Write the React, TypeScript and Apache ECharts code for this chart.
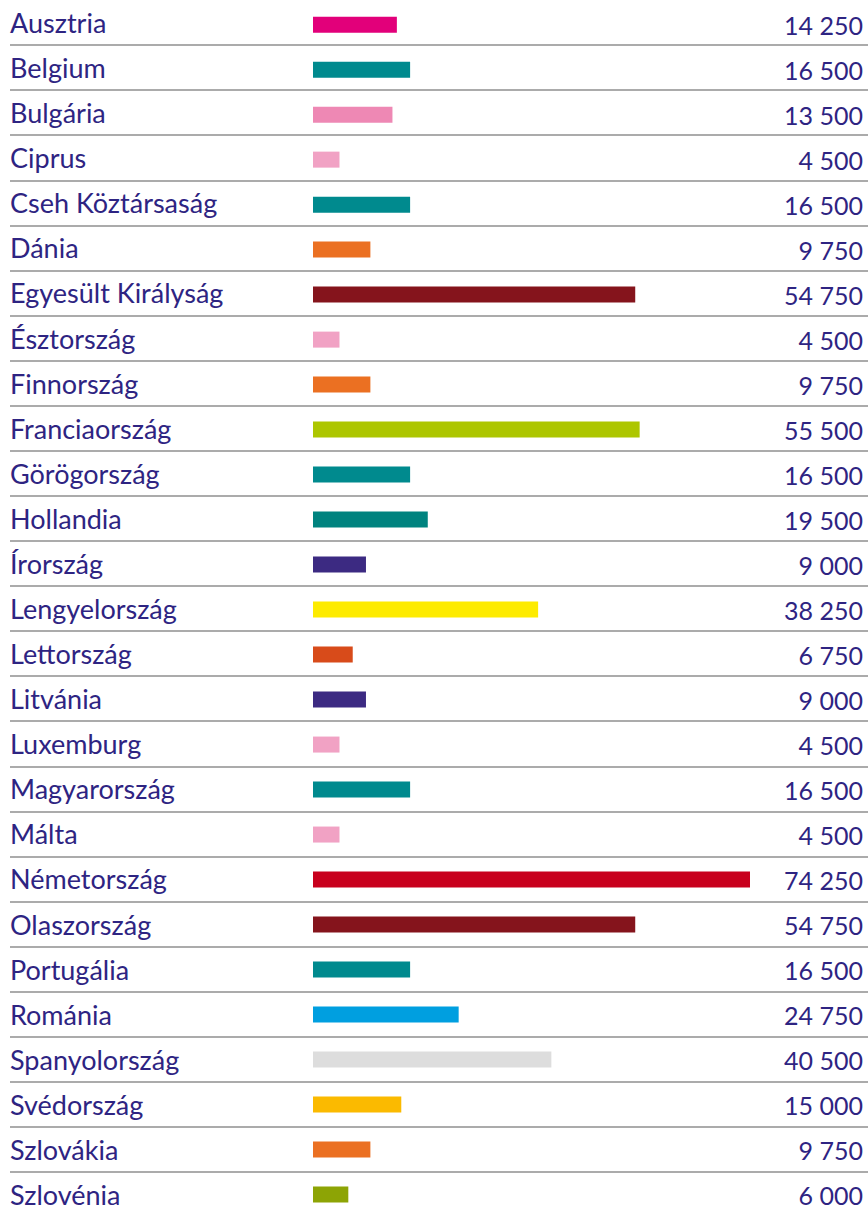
import React, { useEffect, useRef } from "react";
import * as echarts from "echarts";

const categories = [
  "Ausztria", "Belgium", "Bulgária", "Ciprus", "Cseh Köztársaság", "Dánia",
  "Egyesült Királyság", "Észtország", "Finnország", "Franciaország", "Görögország",
  "Hollandia", "Írország", "Lengyelország", "Lettország", "Litvánia", "Luxemburg",
  "Magyarország", "Málta", "Németország", "Olaszország", "Portugália", "Románia",
  "Spanyolország", "Svédország", "Szlovákia", "Szlovénia",
];

const values = [
  14250, 16500, 13500, 4500, 16500, 9750,
  54750, 4500, 9750, 55500, 16500,
  19500, 9000, 38250, 6750, 9000, 4500,
  16500, 4500, 74250, 54750, 16500, 24750,
  40500, 15000, 9750, 6000,
];

const barColors = [
  "#e2007a", "#008a8e", "#ee88b4", "#f1a2c4", "#008a8e", "#eb7022",
  "#85141c", "#f1a2c4", "#eb7022", "#adc600", "#008a8e",
  "#00837f", "#3c2a82", "#fdeb00", "#d84b1a", "#3c2a82", "#f1a2c4",
  "#008a8e", "#f1a2c4", "#c8001d", "#85141c", "#008a8e", "#009fe0",
  "#dddddd", "#fbba00", "#eb7022", "#8da405",
];

const fmt = (v: number) => String(v).replace(/\B(?=(\d{3})+(?!\d))/g, " ");
const valueLabels = values.map(fmt);

const TEXT = "#2e2482";
const FONT = "Lato";

export default function App() {
  const ref = useRef<HTMLDivElement>(null);
  useEffect(() => {
    if (!ref.current) return;
    const chart = echarts.init(ref.current, null, { renderer: "svg" });
    const pitch = 45.35;
    const n = categories.length;
    const h = pitch * n;
    const topA = -0.85;
    const topB = topA + 3;
    chart.setOption({
      animation: false,
      grid: [
        { left: 10, right: 0, top: topA, height: h, containLabel: false },
        { left: 313, width: 437, top: topB, height: h, containLabel: false },
      ],
      xAxis: [
        { type: "value", gridIndex: 0, min: 0, max: 1, show: false },
        { type: "value", gridIndex: 1, min: 0, max: 74250, show: false },
      ],
      yAxis: [
        {
          type: "category",
          gridIndex: 0,
          data: categories,
          inverse: true,
          axisLine: { show: false },
          axisTick: { show: false },
          axisLabel: {
            align: "left",
            margin: 0,
            color: TEXT,
            fontFamily: FONT,
            fontSize: 27,
            interval: 0,
          },
          splitLine: {
            show: true,
            interval: 0,
            showMinLine: false,
            showMaxLine: false,
            lineStyle: { color: "#8f8f8f", width: 1.6 },
          },
        },
        {
          type: "category",
          gridIndex: 1,
          position: "right",
          data: valueLabels,
          inverse: true,
          axisLine: { show: false },
          axisTick: { show: false },
          splitLine: { show: false },
          axisLabel: {
            align: "right",
            margin: 113,
            color: TEXT,
            fontFamily: FONT,
            fontSize: 25,
            interval: 0,
          },
        },
      ],
      series: [
        {
          type: "bar",
          xAxisIndex: 1,
          yAxisIndex: 1,
          barWidth: 16,
          data: values.map((v, i) => ({ value: v, itemStyle: { color: barColors[i] } })),
        },
      ],
    });
    return () => chart.dispose();
  }, []);
  return (
    <div
      ref={ref}
      style={{ position: "absolute", left: 0, top: 0, width: 868, height: 1217 }}
    />
  );
}
